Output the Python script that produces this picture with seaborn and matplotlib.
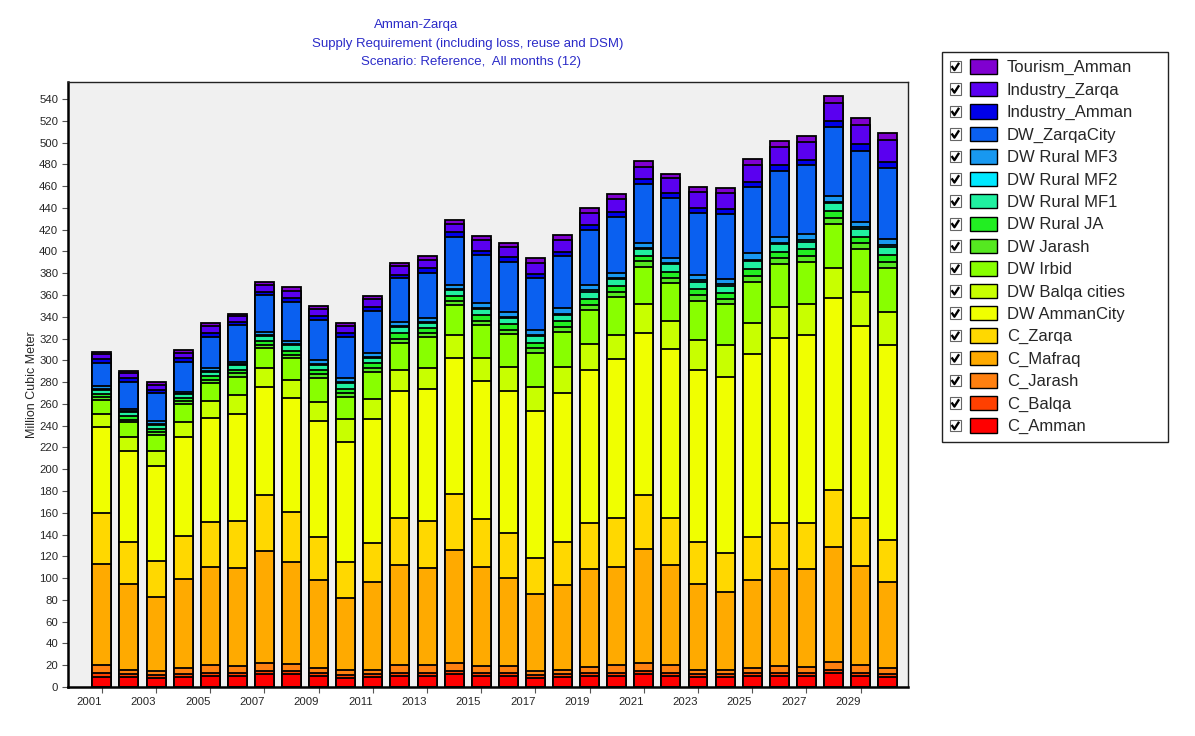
import numpy as np
import matplotlib
matplotlib.use("Agg")
import matplotlib.pyplot as plt
import seaborn as sns
from matplotlib.legend_handler import HandlerBase
from matplotlib.patches import Rectangle, Patch
from matplotlib.lines import Line2D

# ---------------- data ----------------
years = list(range(2001, 2031))

C_Amman = [9.5, 9, 8, 9, 10, 10, 12, 12, 10, 8, 9, 10, 10, 12, 10, 10, 8, 9, 10, 10, 12, 10, 9, 9, 10, 10, 10, 13, 10, 9]
C_Balqa = [3.5, 3, 3, 3, 3, 3, 3, 3, 3, 3, 3, 3, 3, 3, 3, 3, 3, 3, 3, 3, 3, 3, 3, 3, 3, 3, 3, 3, 3, 3]
C_Jarash = [7, 4, 4, 5.5, 7, 6, 7, 6, 4.5, 5, 4, 7, 7, 7, 6, 6, 4, 4, 5, 7, 7, 7, 4, 4, 4, 6, 5, 7, 7, 5]
C_Mafraq = [93, 79, 68, 81.5, 90, 90, 103, 94, 80.8, 65.4, 80, 92, 89.6, 103.8, 91, 80.8, 70, 77.7, 90, 90.5,
            104.4, 92, 78.6, 71.5, 81.3, 89, 90, 105.9, 91, 79]
C_Zarqa = [46.5, 38.5, 33, 39.7, 41.8, 43.7, 51.4, 46, 39.7, 33.1, 36, 42.9, 43.1, 51.4, 44, 41.2, 33.8, 39.8, 42.3, 44.4,
           49.9, 43.5, 38.9, 35.3, 39.7, 42.3, 43, 52.1, 43.9, 39]
DW_AmmanCity = [79.5, 83.5, 87, 91.2, 95, 97.7, 98.9, 104, 106.6, 110.5, 114, 116.9, 120.7, 124.6, 127.3, 131, 135, 136.8,
                140.7, 146, 148.7, 154.5, 157.5, 162.2, 167.8, 169.9, 172.3, 176, 176.6, 179]
DW_Balqa_cities = [11.5, 12.3, 13.7, 13.8, 16.2, 17.6, 17.5, 17, 17.4, 20.8, 18.5, 19.2, 19.2, 21.2, 20.5, 22, 21.4, 23.7,
                   24, 22.4, 26.7, 26.4, 27.7, 29, 28.8, 29.1, 28.4, 27.5, 31.5, 30.7]
DW_Irbid = [13.5, 13.7, 14.7, 16.2, 15.9, 17, 18.3, 19.8, 21.5, 20.8, 25.1, 25, 29, 27.8, 30.7, 30.2, 31.2, 32.3, 31.2,
            34.6, 34.3, 34.3, 36.1, 37.7, 37.6, 39.2, 38.9, 40.7, 39, 39.8]
DW_Jarash = [2.5, 2.5, 2.5, 2.3, 3, 3, 3, 3, 3.5, 3.5, 3.5, 4, 3.5, 4, 4, 4, 4.5, 4.5, 5, 5, 5, 5, 5, 5, 5.5, 5.5, 5.5,
             5.5, 5.5, 6]
DW_Rural_JA = [3, 3, 3, 3, 3.5, 3.5, 4, 4, 4, 4, 4, 5, 4.5, 4.5, 5, 5, 5, 5, 5.5, 5, 5, 5.5, 5.5, 5, 6, 5.5, 6, 6, 6, 6]
DW_Rural_MF1 = [3.5, 4, 4, 3.5, 4, 4, 4.5, 5, 5, 5, 5, 5.5, 5, 5.5, 6, 6, 6, 6, 6.5, 6.5, 6.5, 7, 7, 7, 7.5, 7, 7, 7.5,
                7.5, 8]
DW_Rural_MF2 = [0.8, 0.8, 0.8, 0.7, 0.8, 0.8, 0.8, 0.9, 1, 1, 1, 1, 0.8, 0.9, 1, 1, 1.2, 1.2, 1.2, 1, 1, 1.1, 1.1, 1.2,
                1.3, 1.2, 1.3, 1.2, 1.2, 1.2]
DW_Rural_MF3 = [2.2, 2.2, 2.3, 1.8, 2.5, 2.5, 2.4, 2.8, 3.3, 3.4, 3.3, 4, 3.2, 3.5, 3.9, 3.8, 4.8, 4.8, 4.8, 4.5, 4.5, 5,
                5, 4.5, 5.8, 5.3, 5.6, 5.5, 5.1, 5.4]
DW_ZarqaCity = [22, 25, 25.7, 27.6, 29, 33.6, 34.3, 36.4, 36.7, 38.2, 39.2, 39.8, 41.9, 44.4, 44.3, 46.6, 47.4, 48, 50.5,
                52.1, 54, 54.5, 57.2, 60, 60.6, 61.2, 63.4, 63.7, 65.2, 65.2]
Industry_Amman = [3, 3, 3, 3, 3, 3, 3, 3, 3.5, 3.5, 3.5, 3.5, 4, 4, 4, 4, 4, 4, 4.5, 4.5, 4.5, 4.5, 4.5, 5, 5, 5, 4.5,
                  5.5, 6, 6]
Industry_Zarqa = [5, 4.5, 5, 5, 6.5, 5, 6, 7, 6.5, 6, 7, 7.5, 7.5, 8, 10, 9.5, 10, 11, 11, 12, 11, 14, 14.5, 14, 15.5,
                  17, 17, 16, 17.5, 20]
Tourism_Amman = [2, 2, 2.5, 2.7, 3, 2, 2.6, 3, 3, 2.8, 3, 3.4, 3.8, 3.3, 3.5, 3.9, 4.4, 4.3, 4.4, 4.3, 5.5, 3.7, 4.3,
                 4.6, 5.2, 5.5, 5.1, 7, 6.2, 6.5]

# bottom -> top
series_names = ["C_Amman", "C_Balqa", "C_Jarash", "C_Mafraq", "C_Zarqa", "DW AmmanCity", "DW Balqa cities",
                "DW Irbid", "DW Jarash", "DW Rural JA", "DW Rural MF1", "DW Rural MF2", "DW Rural MF3",
                "DW_ZarqaCity", "Industry_Amman", "Industry_Zarqa", "Tourism_Amman"]
series_values = [C_Amman, C_Balqa, C_Jarash, C_Mafraq, C_Zarqa, DW_AmmanCity, DW_Balqa_cities, DW_Irbid,
                 DW_Jarash, DW_Rural_JA, DW_Rural_MF1, DW_Rural_MF2, DW_Rural_MF3, DW_ZarqaCity,
                 Industry_Amman, Industry_Zarqa, Tourism_Amman]
series_colors = ["#ff0000", "#ff4000", "#ff8010", "#ffaa00", "#ffd800", "#f0ff00", "#c8ff00", "#88ff00",
                 "#55e820", "#22ee22", "#20f0a0", "#00e8ff", "#1898f0", "#0a60f0", "#0000e8", "#5a00f0", "#8000d0"]

title_lines = ["Amman-Zarqa", "Supply Requirement (including loss, reuse and DSM)",
               "Scenario: Reference,  All months (12)"]
y_label = "Million Cubic Meter"

# ---------------- style ----------------
sns.set_style("white")
plt.rcParams["font.family"] = ["Liberation Sans", "DejaVu Sans"]

fig = plt.figure(figsize=(11.95, 7.36), dpi=100, facecolor="white")
ax = fig.add_axes([68 / 1195, 1 - 687 / 736, (908 - 68) / 1195, (687 - 82) / 736])
ax.set_facecolor("#f0f0f0")

year_labels = [str(y) for y in years]
cum = np.cumsum(np.array(series_values, dtype=float), axis=0)

# draw cumulative totals from the top series down so each layer shows its own segment
for i in reversed(range(len(series_names))):
    sns.barplot(x=year_labels, y=cum[i], color=series_colors[i], width=0.7, saturation=1,
                edgecolor="black", linewidth=1.3, errorbar=None, ax=ax)

ax.set_xlim(-1.25, 29.75)
ax.set_ylim(0, 555.6)
ax.set_yticks(np.arange(0, 541, 20))
ax.set_yticklabels([str(v) for v in range(0, 541, 20)], fontsize=8.2)
ax.set_xticks(range(0, 30, 2))
ax.set_xticklabels(year_labels[::2], fontsize=8.2, ha="right")
ax.tick_params(axis="both", direction="out", length=4, width=0.8, color="#555555", pad=3,
               bottom=True, left=True)
ax.set_xlabel("")
ax.set_ylabel(y_label, fontsize=9, labelpad=1)

for side in ["left", "bottom"]:
    ax.spines[side].set_linewidth(1.8)
    ax.spines[side].set_color("black")
for side in ["top", "right"]:
    ax.spines[side].set_linewidth(1.0)
    ax.spines[side].set_color("#222222")

# title lines
title_x = [416, 468, 471]
title_y = [25, 44, 62]
for t, xx, yy in zip(title_lines, title_x, title_y):
    fig.text(xx / 1195, 1 - yy / 736, t, ha="center", va="center", fontsize=9.5, color="#2b2bc8")


# ---------------- legend with checkboxes ----------------
class CheckSwatch(HandlerBase):
    def create_artists(self, legend, orig_handle, xdescent, ydescent, width, height, fontsize, trans):
        x0, y0 = -xdescent, -ydescent
        bs = height * 0.82
        by = y0 + (height - bs) / 2
        box = Rectangle((x0, by), bs, bs, facecolor="white", edgecolor="#666666", lw=0.8, transform=trans)
        chk = Line2D([x0 + 0.18 * bs, x0 + 0.42 * bs, x0 + 0.82 * bs],
                     [by + 0.55 * bs, by + 0.2 * bs, by + 0.82 * bs],
                     color="black", lw=1.7, solid_capstyle="butt", transform=trans)
        sx = x0 + bs + 0.75 * bs
        sw = Rectangle((sx, y0), x0 + width - sx, height, facecolor=orig_handle.get_facecolor(),
                       edgecolor="black", lw=1.0, transform=trans)
        return [box, chk, sw]


handles = [Patch(facecolor=c) for c in series_colors][::-1]
labels = series_names[::-1]
leg = fig.legend(handles, labels, loc="upper left",
                 bbox_to_anchor=(942 / 1195, 1 - 52 / 736, (1168 - 942) / 1195, 0.0001),
                 mode="expand", handler_map={Patch: CheckSwatch()},
                 fontsize=12, handlelength=2.83, handleheight=0.94, handletextpad=0.6,
                 labelspacing=0.39, borderpad=0.45, borderaxespad=0, frameon=True, fancybox=False,
                 framealpha=1, edgecolor="#222222", facecolor="white")
leg.get_frame().set_linewidth(1.0)

fig.savefig("out.png", dpi=100, facecolor="white")
